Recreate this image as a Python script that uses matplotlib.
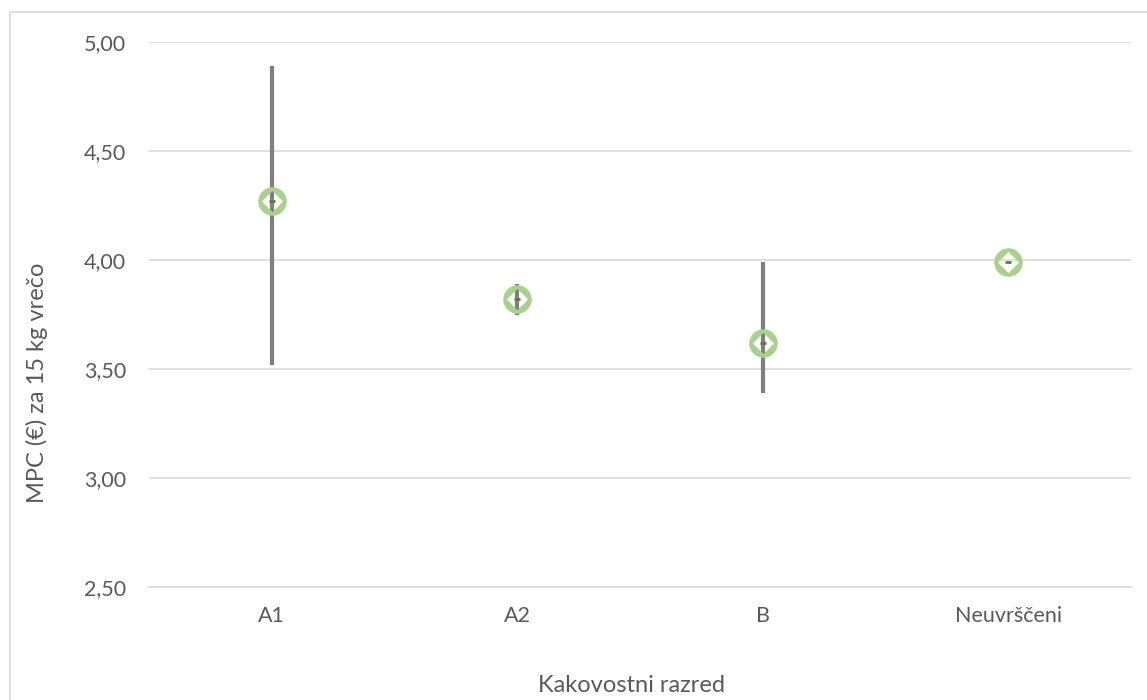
import matplotlib
matplotlib.use("Agg")
import matplotlib.pyplot as plt
from matplotlib.path import Path
from matplotlib.patches import Rectangle
import numpy as np

categories = ["A1", "A2", "B", "Neuvrščeni"]
mean_vals = [4.27, 3.82, 3.62, 3.99]
min_vals = [3.52, 3.75, 3.39, 3.99]
max_vals = [4.89, 3.89, 3.99, 3.99]
yticks = [2.5, 3.0, 3.5, 4.0, 4.5, 5.0]

plt.rcParams['font.family'] = ['Lato', 'DejaVu Sans']
txt = '#595959'
grid = '#d9d9d9'

fig = plt.figure(figsize=(11.47, 7.0), dpi=100)
ax = fig.add_axes([149/1147, 1-587/700, (1131-149)/1147, (587-42)/700])

# outer border
fig.patches.append(Rectangle((10/1147, -0.05), 1.2, 1-12/700+0.05, transform=fig.transFigure,
                             fill=False, edgecolor=grid, linewidth=1.2, zorder=0))

x = np.arange(len(categories))
ax.vlines(x, min_vals, max_vals, color='#7f7f7f', linewidth=3.0, zorder=3)

# ring marker: circle with a diamond hole
circ = Path.unit_circle()
r = 0.74
dia = Path([(0, r), (r, 0), (0, -r), (-r, 0), (0, r)],
           [Path.MOVETO, Path.LINETO, Path.LINETO, Path.LINETO, Path.CLOSEPOLY])
ring = Path.make_compound_path(circ, dia)
ax.plot(x, mean_vals, linestyle='none', marker=ring, markersize=20.5,
        markerfacecolor='#a9d18e', markeredgewidth=0, zorder=4)
ax.plot(x, mean_vals, linestyle='none', marker='_', markersize=5,
        markeredgecolor='#548235', markeredgewidth=2, zorder=5)

ax.set_xlim(-0.5, len(categories)-0.5)
ax.set_ylim(2.5, 5.0)
ax.set_yticks(yticks)
ax.set_yticklabels([f"{v:.2f}".replace('.', ',') for v in yticks])
ax.set_xticks(x)
ax.set_xticklabels(categories)
ax.tick_params(axis='both', length=0, colors=txt, labelsize=15.5)
ax.tick_params(axis='y', pad=16.5)
ax.tick_params(axis='x', pad=14)
ax.grid(axis='y', color=grid, linewidth=1.2, zorder=0)
ax.set_axisbelow(True)
for s in ['top', 'left', 'right']:
    ax.spines[s].set_visible(False)
ax.spines['bottom'].set_color(grid)
ax.spines['bottom'].set_linewidth(1.2)

fig.text(37/1147, 1-383/700, "MPC (€) za 15 kg vrečo", rotation=90,
         ha='center', va='center', color=txt, fontsize=17)
fig.text(631/1147, 1-685/700, "Kakovostni razred", ha='center', va='center',
         color=txt, fontsize=17)

fig.savefig("out.png", dpi=100)
